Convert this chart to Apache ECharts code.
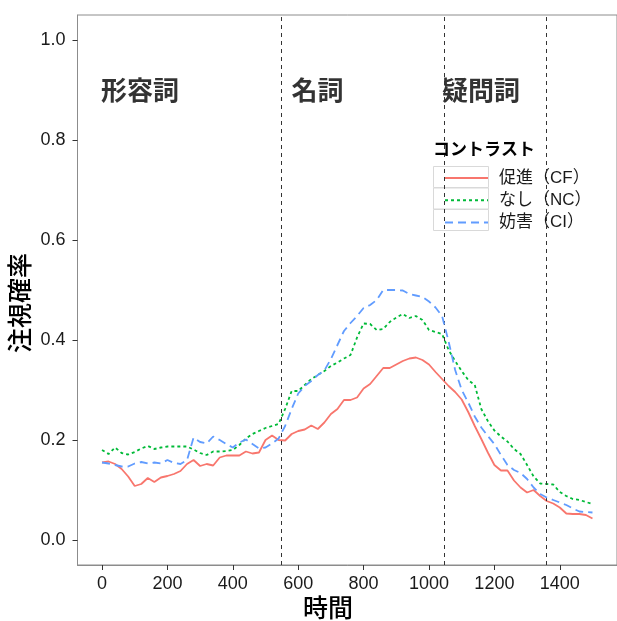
<!DOCTYPE html>
<html>
<head>
<meta charset="utf-8">
<script src="https://cdn.jsdelivr.net/npm/echarts@6/dist/echarts.min.js"></script>
<style>html,body{margin:0;padding:0;background:#fff;}#c{width:617px;height:621px;}</style>
</head>
<body>
<div id="c"></div>
<script>
// ---- data ----
const times = [0,20,40,60,80,100,120,140,160,180,200,220,240,260,280,300,320,340,360,380,
  400,420,440,460,480,500,520,540,560,580,600,620,640,660,680,700,720,740,760,780,
  800,820,840,860,880,900,920,940,960,980,1000,1020,1040,1060,1080,1100,1120,1140,1160,1180,
  1200,1220,1240,1260,1280,1300,1320,1340,1360,1380,1400,1420,1440,1460,1480,1500];

const seriesNames = ['促進（CF）', 'なし（NC）', '妨害（CI）'];

const cfValues = [0.155,0.157,0.152,0.142,0.127,0.108,0.112,0.124,0.116,0.125,
  0.128,0.132,0.138,0.152,0.160,0.148,0.152,0.149,0.165,0.169,
  0.169,0.169,0.177,0.173,0.175,0.200,0.209,0.200,0.199,0.212,
  0.218,0.221,0.229,0.222,0.235,0.252,0.262,0.280,0.280,0.285,
  0.303,0.312,0.328,0.344,0.344,0.351,0.358,0.363,0.365,0.360,
  0.351,0.336,0.322,0.308,0.296,0.281,0.256,0.228,0.202,0.175,
  0.150,0.139,0.139,0.119,0.105,0.095,0.100,0.088,0.078,0.073,
  0.065,0.053,0.052,0.052,0.050,0.043];

const ncValues = [0.180,0.172,0.185,0.174,0.171,0.176,0.183,0.188,0.182,0.185,
  0.187,0.187,0.187,0.187,0.181,0.174,0.170,0.177,0.177,0.178,
  0.180,0.190,0.203,0.212,0.218,0.224,0.228,0.232,0.262,0.298,
  0.298,0.310,0.322,0.330,0.338,0.348,0.355,0.363,0.370,0.405,
  0.433,0.432,0.420,0.422,0.436,0.445,0.452,0.444,0.448,0.440,
  0.420,0.416,0.412,0.380,0.358,0.338,0.320,0.310,0.262,0.238,
  0.219,0.207,0.197,0.182,0.172,0.150,0.127,0.113,0.112,0.111,
  0.096,0.088,0.082,0.080,0.076,0.072];

const ciValues = [0.155,0.153,0.150,0.147,0.147,0.153,0.156,0.153,0.155,0.153,
  0.160,0.154,0.152,0.160,0.205,0.196,0.193,0.207,0.200,0.192,
  0.185,0.195,0.201,0.192,0.183,0.185,0.193,0.203,0.228,0.262,
  0.293,0.308,0.318,0.330,0.339,0.362,0.390,0.418,0.434,0.448,
  0.464,0.470,0.480,0.500,0.500,0.500,0.499,0.492,0.489,0.486,
  0.477,0.465,0.448,0.397,0.340,0.300,0.275,0.247,0.225,0.208,
  0.192,0.170,0.150,0.140,0.134,0.122,0.105,0.092,0.085,0.080,
  0.075,0.070,0.063,0.057,0.056,0.055];

const xTicks = [0,200,400,600,800,1000,1200,1400];
const yTicks = [0,0.2,0.4,0.6,0.8,1.0];
const boundaries = [547, 1046, 1358];
const annoLabels = ['形容詞', '名詞', '疑問詞'];
const annoX = [116, 659, 1159];
const annoY = [0.9, 0.9, 0.9];

// ---- chart ----
const FONT = "'Liberation Sans','Noto Sans CJK JP',sans-serif";
const CJK = "'Noto Sans CJK JP','Liberation Sans',sans-serif";
const colors = ['#F8766D', '#00BA38', '#619CFF'];
const dashes = ['solid', [3, 3], [8, 5]];
const valueSets = [cfValues, ncValues, ciValues];

const chart = echarts.init(document.getElementById('c'), null, {renderer: 'canvas'});

const lineSeries = seriesNames.map((name, i) => ({
  name: name,
  type: 'line',
  data: times.map((t, j) => [t, valueSets[i][j]]),
  symbol: 'none',
  showSymbol: false,
  smooth: false,
  z: 3 + i,
  lineStyle: {color: colors[i], width: 1.8, type: dashes[i]},
  itemStyle: {color: colors[i]},
  emphasis: {disabled: true},
  animation: false
}));

const annoSeries = {
  name: 'anno',
  type: 'scatter',
  data: annoX.map((x, i) => ({value: [x, annoY[i]], label: {formatter: annoLabels[i]}})),
  symbolSize: 0,
  silent: true,
  z: 2,
  label: {show: true, position: 'inside', color: '#000', fontSize: 26, fontWeight: 'bold', fontFamily: CJK},
  markLine: {
    silent: true,
    symbol: ['none', 'none'],
    label: {show: false},
    lineStyle: {color: '#333', width: 1, type: [4, 4]},
    data: boundaries.map(b => ({xAxis: b})),
    animation: false
  },
  animation: false
};

chart.setOption({
  animation: false,
  backgroundColor: '#fff',
  textStyle: {fontFamily: FONT},
  grid: {left: 77.5, top: 15, width: 542, height: 550, show: true, borderColor: '#8c8c8c', borderWidth: 1, backgroundColor: 'transparent'},
  xAxis: {
    type: 'value', min: -75, max: 1575,
    axisLine: {show: true, onZero: false, lineStyle: {color: '#8c8c8c', width: 1}},
    axisTick: {show: true, customValues: xTicks, length: 5, lineStyle: {color: '#333', width: 1}},
    axisLabel: {customValues: xTicks, color: '#1a1a1a', fontSize: 18, margin: 10, fontFamily: FONT,
      formatter: v => String(v)},
    splitLine: {show: false}
  },
  yAxis: {
    type: 'value', min: -0.05, max: 1.05,
    axisLine: {show: true, onZero: false, lineStyle: {color: '#8c8c8c', width: 1}},
    axisTick: {show: true, customValues: yTicks, length: 5, lineStyle: {color: '#333', width: 1}},
    axisLabel: {customValues: yTicks, color: '#1a1a1a', fontSize: 18, margin: 12, fontFamily: FONT,
      formatter: v => v.toFixed(1)},
    splitLine: {show: false}
  },
  legend: {
    data: seriesNames,
    orient: 'vertical',
    left: 439, top: 164.5,
    itemWidth: 43, itemHeight: 14, itemGap: 5.2,
    itemStyle: {opacity: 0, borderWidth: 0},
    textStyle: {fontSize: 17, color: '#1a1a1a', fontFamily: FONT, lineHeight: 14, padding: [0, 0, 0, 6]},
    selectedMode: false
  },
  graphic: [
    {type: 'rect', shape: {x: 433.5, y: 166.5, width: 55, height: 21}, style: {fill: '#fff', stroke: '#d9d9d9', lineWidth: 1}, z: 1, silent: true},
    {type: 'rect', shape: {x: 433.5, y: 188, width: 55, height: 21}, style: {fill: '#fff', stroke: '#d9d9d9', lineWidth: 1}, z: 1, silent: true},
    {type: 'rect', shape: {x: 433.5, y: 209.5, width: 55, height: 21}, style: {fill: '#fff', stroke: '#d9d9d9', lineWidth: 1}, z: 1, silent: true},
    {type: 'text', left: 433, top: 140, style: {text: 'コントラスト', font: "bold 17px " + CJK, fill: '#000'}, z: 10},
    {type: 'text', x: 328, y: 607, style: {text: '時間', font: "500 25px " + CJK, fill: '#000', align: 'center', verticalAlign: 'middle'}},
    {type: 'text', x: 19, y: 303, rotation: Math.PI / 2, style: {text: '注視確率', font: "500 25px " + CJK, fill: '#000', align: 'center', verticalAlign: 'middle'}}
  ],
  series: lineSeries.concat([annoSeries])
});
</script>
</body>
</html>
